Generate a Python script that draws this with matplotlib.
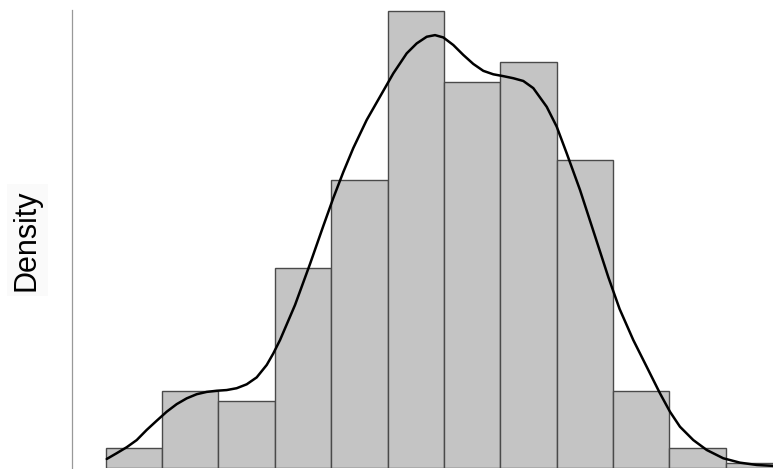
import matplotlib.pyplot as plt
import numpy as np

# Histogram densities (bin width 1, 12 bins)
bin_edges = np.arange(0, 13)
densities = [0.0086, 0.0331, 0.0287, 0.0867, 0.1246, 0.1982,
             0.1671, 0.1759, 0.1335, 0.0331, 0.0086, 0.0020]

# Density curve
kde_x = [0.018, 0.195, 0.373, 0.550, 0.727, 0.905, 1.082, 1.260, 1.437, 1.615,
         1.792, 1.969, 2.147, 2.324, 2.502, 2.679, 2.857, 2.974, 3.093, 3.359,
         3.625, 3.861, 4.038, 4.216, 4.393, 4.631, 4.867, 5.103, 5.341,
         5.518, 5.696, 5.843, 5.990, 6.168, 6.345, 6.522, 6.700, 6.877, 7.055,
         7.232, 7.410, 7.587, 7.825, 8.002, 8.180, 8.416, 8.682, 8.918, 9.118,
         9.361, 9.599, 9.834, 10.012, 10.189, 10.426, 10.664, 10.958, 11.254, 11.551,
         11.840]
kde_y = [0.0037, 0.0062, 0.0088, 0.0119, 0.0163, 0.0203, 0.0242, 0.0275, 0.0300, 0.0318,
         0.0328, 0.0333, 0.0336, 0.0344, 0.0361, 0.0391, 0.0445, 0.0495, 0.0553, 0.0705,
         0.0883, 0.1048, 0.1169, 0.1282, 0.1386, 0.1508, 0.1609, 0.1710, 0.1797,
         0.1840, 0.1869, 0.1876, 0.1866, 0.1833, 0.1790, 0.1751, 0.1721, 0.1706, 0.1698,
         0.1689, 0.1677, 0.1646, 0.1565, 0.1479, 0.1363, 0.1204, 0.1004, 0.0826, 0.0688,
         0.0553, 0.0437, 0.0322, 0.0242, 0.0177, 0.0119, 0.0076, 0.0040, 0.0021, 0.0011,
         0.0007]

plt.rcParams['font.family'] = ['Liberation Sans', 'DejaVu Sans']

fig = plt.figure(figsize=(7.73, 4.69), dpi=100)
ax = fig.add_axes([72 / 773, 1.5 / 469, 701 / 773, 457.5 / 469])

ax.bar(bin_edges[:-1], densities, width=1, align='edge',
       color='#c4c4c4', edgecolor='#4a4a4a', linewidth=1.0)
ax.plot(kde_x, kde_y, color='black', linewidth=1.8,
        solid_joinstyle='round', solid_capstyle='round')

ax.set_xlim(-0.598, 11.84)
ax.set_ylim(0, 0.1985)

for side in ['top', 'right', 'bottom']:
    ax.spines[side].set_visible(False)
ax.spines['left'].set_color('#999999')
ax.spines['left'].set_linewidth(0.9)
ax.set_xticks([])
ax.set_yticks([])

fig.text(27 / 773, 1 - 240 / 469, 'Density', rotation=90, fontsize=22,
         ha='center', va='center', color='black',
         bbox=dict(facecolor='#fafafa', edgecolor='none', pad=4))

fig.savefig('out.png', dpi=100)
